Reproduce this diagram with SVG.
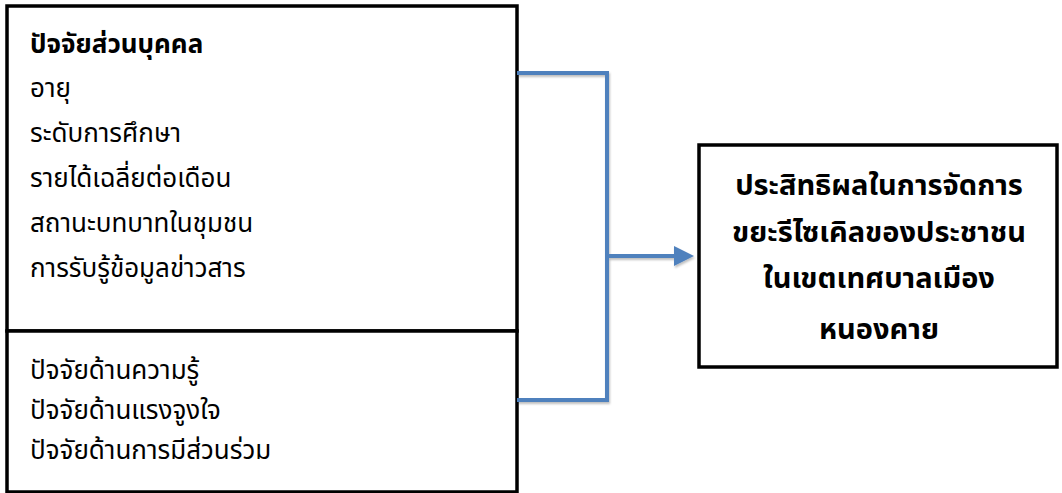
<svg xmlns="http://www.w3.org/2000/svg" width="1062" height="493" viewBox="0 0 1062 493">
<style>
.box{fill:#ffffff;stroke:#000000;stroke-width:3.5}
.t{font-family:"Noto Sans Thai","Noto Sans","DejaVu Sans",sans-serif;font-size:26px;fill:#000000}
.b{font-weight:bold;font-size:26px}
.c{text-anchor:middle;font-weight:bold;font-size:29px}
.conn{fill:none;stroke:#4F81BD;stroke-width:4}
</style>
<defs>
<marker id="arr" markerWidth="5" markerHeight="5" refX="3" refY="2.5" orient="auto" markerUnits="strokeWidth">
<path d="M0,0 L5,2.5 L0,5 Z" fill="#4F81BD"/>
</marker>
<filter id="sh" x="-10%" y="-10%" width="120%" height="120%">
<feDropShadow dx="1" dy="2" stdDeviation="1.2" flood-color="#000" flood-opacity="0.25"/>
</filter>
</defs>
<g id="personal-factors">
<rect class="box" x="7" y="6" width="510" height="325"/>
<text class="t b" x="30" y="53">ปัจจัยส่วนบุคคล</text>
<text class="t" x="30" y="97">อายุ</text>
<text class="t" x="30" y="142">ระดับการศึกษา</text>
<text class="t" x="30" y="187">รายได้เฉลี่ยต่อเดือน</text>
<text class="t" x="30" y="232">สถานะบทบาทในชุมชน</text>
<text class="t" x="30" y="277">การรับรู้ข้อมูลข่าวสาร</text>
</g>
<g id="other-factors">
<rect class="box" x="7" y="331" width="510" height="161"/>
<text class="t" x="30" y="379">ปัจจัยด้านความรู้</text>
<text class="t" x="30" y="419">ปัจจัยด้านแรงจูงใจ</text>
<text class="t" x="30" y="459">ปัจจัยด้านการมีส่วนร่วม</text>
</g>
<g id="outcome">
<rect class="box" x="699" y="145" width="358" height="222"/>
<text class="t c" x="879" y="195">ประสิทธิผลในการจัดการ</text>
<text class="t c" x="879" y="242">ขยะรีไซเคิลของประชาชน</text>
<text class="t c" x="879" y="288">ในเขตเทศบาลเมือง</text>
<text class="t c" x="879" y="339">หนองคาย</text>
</g>
<g id="connectors" filter="url(#sh)">
<polyline class="conn" points="517,73 607,73 607,400 517,400"/>
<line class="conn" x1="607" y1="256" x2="686" y2="256" marker-end="url(#arr)"/>
</g>
</svg>
